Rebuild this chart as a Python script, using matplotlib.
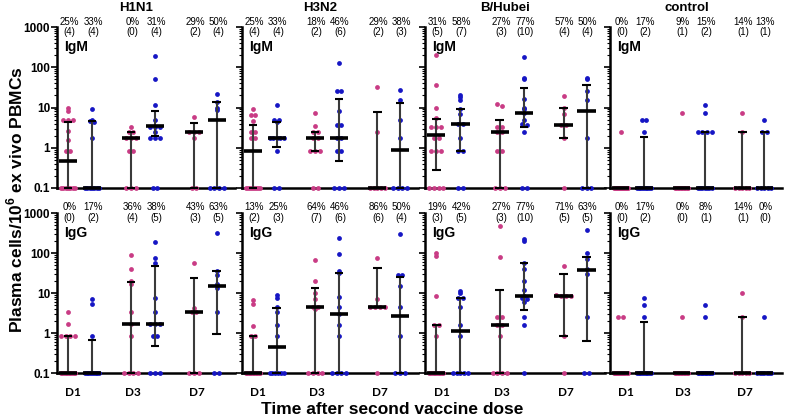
import numpy as np
import matplotlib
matplotlib.use("Agg")
import matplotlib.pyplot as plt
from matplotlib.ticker import LogLocator, NullFormatter, FixedLocator

plt.rcParams['font.family'] = ['Liberation Sans', 'DejaVu Sans']
plt.rcParams['mathtext.fontset'] = 'custom'
plt.rcParams['mathtext.rm'] = 'Liberation Sans'
plt.rcParams['mathtext.bf'] = 'Liberation Sans:bold'

# ---------------- data ----------------
strains = ["H1N1", "H3N2", "B/Hubei", "control"]
isotypes = ["IgM", "IgG"]
days = ["D1", "D3", "D7"]
ytick_vals = [0.1, 1, 10, 100, 1000]
ytick_labels = ["0.1", "1", "10", "100", "1000"]

# group order in every panel: D1 pink, D1 blue, D3 pink, D3 blue, D7 pink, D7 blue
h1n1_igm_vals = [
    [9.5, 8.3, 4.9, 4.9, 4.9, 2.6, 1.6, 0.85, 0.85] + [0.1] * 7,
    [9, 5, 4.5, 4.3, 1.7] + [0.1] * 7,
    [3.3, 2.5, 2.5, 1.7, 1.7, 1.7, 0.85, 0.85, 0.1, 0.1, 0.1],
    [190, 51, 11.5, 5, 3.3, 3.3, 3.3, 2.5, 1.7, 1.7, 1.7, 0.1, 0.1],
    [5.8, 2.5, 2.5, 2.5, 1.7, 0.1, 0.1],
    [22, 14, 10, 8.5, 0.1, 0.1, 0.1, 0.1],
]
h1n1_igm_med = [0.47, 0.1, 1.7, 3.4, 2.5, 5.0]
h1n1_igm_lo = [0.1, 0.1, 0.1, 2.0, 0.1, 0.1]
h1n1_igm_hi = [4.3, 4.5, 2.5, 8.3, 4.2, 14]
h1n1_igm_pct = [25, 33, 0, 31, 29, 50]
h1n1_igm_cnt = [4, 4, 0, 4, 2, 4]

h3n2_igm_vals = [
    [9, 6.5, 6.5, 4.5, 2.5, 2.5, 1.7, 1.7] + [0.1] * 8,
    [11.3, 5, 5, 4.3, 1.7, 1.7, 1.7, 1.7, 1.7, 0.85, 0.1, 0.1],
    [7.2, 3.5, 2.5, 2.5, 1.7, 1.7, 0.85, 0.85, 0.85, 0.1, 0.1],
    [129, 26, 26, 8.3, 3.7, 3.7, 1.7, 1.7, 0.85, 0.85, 0.1, 0.1, 0.1],
    [33, 2.5, 0.1, 0.1, 0.1, 0.1, 0.1],
    [28, 15, 5, 1.7, 0.1, 0.1, 0.1, 0.1],
]
h3n2_igm_med = [0.83, 1.7, 1.7, 1.7, 0.1, 0.88]
h3n2_igm_lo = [0.1, 1.07, 0.85, 0.46, 0.1, 0.1]
h3n2_igm_hi = [3.7, 4.3, 2.5, 16, 7.9, 12.7]
h3n2_igm_pct = [25, 33, 18, 46, 29, 38]
h3n2_igm_cnt = [4, 4, 2, 6, 2, 3]

bhub_igm_vals = [
    [200, 36, 9.5, 5.4, 3.3, 3.3, 3.3, 1.7, 1.7, 0.85, 0.85, 0.85] + [0.1] * 4,
    [20, 18, 15, 9, 7, 4, 4, 1.7, 0.85, 0.85, 0.1, 0.1],
    [12, 11, 3.3, 3.3, 2.5, 2.5, 0.85, 0.85, 0.1, 0.1, 0.1],
    [178, 55, 50, 16, 10, 9, 7.2, 5, 4, 3.7, 2.4, 0.1, 0.1],
    [19.5, 10, 7, 3.7, 3.7, 1.7, 0.1],
    [55, 50, 25, 15, 1.7, 0.1, 0.1, 0.1],
]
bhub_igm_med = [2.1, 4.0, 2.5, 7.2, 3.7, 8.2]
bhub_igm_lo = [0.28, 0.85, 0.1, 3.3, 1.7, 0.1]
bhub_igm_hi = [5.2, 9, 4.9, 31, 10, 36]
bhub_igm_pct = [31, 58, 27, 77, 57, 50]
bhub_igm_cnt = [5, 7, 3, 10, 4, 4]

ctrl_igm_vals = [
    [2.4] + [0.1] * 15,
    [5, 5, 2.5] + [0.1] * 9,
    [7.2] + [0.1] * 10,
    [11.5, 7.2, 2.5, 2.5, 2.5, 2.5] + [0.1] * 7,
    [7.2, 2.5] + [0.1] * 5,
    [5, 2.5, 2.5] + [0.1] * 5,
]
ctrl_igm_med = [0.1, 0.1, 0.1, 0.1, 0.1, 0.1]
ctrl_igm_lo = [0.1, 0.1, 0.1, 0.1, 0.1, 0.1]
ctrl_igm_hi = [0.1, 1.9, 0.1, 2.5, 2.5, 2.5]
ctrl_igm_pct = [0, 17, 9, 15, 14, 13]
ctrl_igm_cnt = [0, 2, 1, 2, 1, 1]

h1n1_igg_vals = [
    [3.4, 1.7, 0.85, 0.85, 0.85, 0.85] + [0.1] * 10,
    [6.9, 5.2, 0.85] + [0.1] * 9,
    [89, 40, 20, 16.5, 3.3, 1.7, 0.85, 0.1, 0.1, 0.1, 0.1],
    [185, 74, 55, 7.6, 3.3, 1.7, 1.7, 1.7, 0.85, 0.85, 0.1, 0.1, 0.1],
    [57, 4.3, 3.4, 3.3, 0.1, 0.1, 0.1],
    [320, 36, 28, 17, 13, 3.3, 0.1, 0.1],
]
h1n1_igg_med = [0.1, 0.1, 1.7, 1.7, 3.3, 15]
h1n1_igg_lo = [0.1, 0.1, 0.1, 0.48, 0.1, 0.93]
h1n1_igg_hi = [0.85, 0.67, 19, 46, 24, 35]
h1n1_igg_pct = [0, 17, 36, 38, 43, 63]
h1n1_igg_cnt = [0, 2, 4, 5, 3, 5]

h3n2_igg_vals = [
    [6.7, 5.2, 1.5, 0.85, 0.85] + [0.1] * 11,
    [8.9, 7.4, 4.5, 3.3, 1.6, 0.85] + [0.1] * 6,
    [67, 20, 10, 7, 4.5, 4.5, 4, 0.1, 0.1, 0.1, 0.1],
    [240, 93, 36, 31, 8.1, 4.5, 3, 1.6, 0.85, 0.1, 0.1, 0.1, 0.1],
    [76, 7, 4.5, 4.5, 4.5, 4.5, 0.1],
    [293, 28, 28, 15, 4.5, 0.85, 0.1, 0.1, 0.1],
]
h3n2_igg_med = [0.1, 0.45, 4.5, 3.0, 4.5, 2.7]
h3n2_igg_lo = [0.1, 0.1, 0.1, 0.1, 4.5, 0.1]
h3n2_igg_hi = [0.85, 4.2, 13, 31, 41, 25]
h3n2_igg_pct = [13, 25, 64, 46, 86, 50]
h3n2_igg_cnt = [2, 3, 7, 6, 6, 4]

bhub_igg_vals = [
    [100, 85, 8.6, 1.6, 1.6, 0.85] + [0.1] * 10,
    [11, 10, 7.5, 7.5, 4.5, 1.6, 0.85] + [0.1] * 5,
    [470, 78, 2.5, 2.5, 1.6, 1.6, 0.85, 0.1, 0.1, 0.1, 0.1],
    [220, 200, 55, 40, 20, 12, 8.4, 7.5, 7, 6, 2.5, 1.6, 0.1],
    [46, 8.9, 8.4, 8.4, 8.4, 0.85, 0.1],
    [376, 100, 70, 40, 30, 2.5, 0.1, 0.1],
]
bhub_igg_med = [0.1, 1.15, 1.6, 8.4, 8.4, 38]
bhub_igg_lo = [0.1, 0.1, 0.1, 3.8, 0.85, 0.64]
bhub_igg_hi = [1.6, 7.5, 12, 55, 30, 81]
bhub_igg_pct = [19, 42, 27, 77, 71, 63]
bhub_igg_cnt = [3, 5, 3, 10, 5, 5]

ctrl_igg_vals = [
    [2.5, 2.5] + [0.1] * 14,
    [7.4, 4.9, 2.5] + [0.1] * 9,
    [2.5] + [0.1] * 10,
    [4.9, 2.5] + [0.1] * 11,
    [10, 2.5] + [0.1] * 5,
    [2.5] + [0.1] * 7,
]
ctrl_igg_med = [0.1, 0.1, 0.1, 0.1, 0.1, 0.1]
ctrl_igg_lo = [0.1, 0.1, 0.1, 0.1, 0.1, 0.1]
ctrl_igg_hi = [0.1, 1.9, 0.1, 0.1, 2.5, 0.1]
ctrl_igg_pct = [0, 17, 0, 8, 14, 0]
ctrl_igg_cnt = [0, 2, 0, 1, 1, 0]

panels = {
    (0, 0): (h1n1_igm_vals, h1n1_igm_med, h1n1_igm_lo, h1n1_igm_hi, h1n1_igm_pct, h1n1_igm_cnt),
    (0, 1): (h3n2_igm_vals, h3n2_igm_med, h3n2_igm_lo, h3n2_igm_hi, h3n2_igm_pct, h3n2_igm_cnt),
    (0, 2): (bhub_igm_vals, bhub_igm_med, bhub_igm_lo, bhub_igm_hi, bhub_igm_pct, bhub_igm_cnt),
    (0, 3): (ctrl_igm_vals, ctrl_igm_med, ctrl_igm_lo, ctrl_igm_hi, ctrl_igm_pct, ctrl_igm_cnt),
    (1, 0): (h1n1_igg_vals, h1n1_igg_med, h1n1_igg_lo, h1n1_igg_hi, h1n1_igg_pct, h1n1_igg_cnt),
    (1, 1): (h3n2_igg_vals, h3n2_igg_med, h3n2_igg_lo, h3n2_igg_hi, h3n2_igg_pct, h3n2_igg_cnt),
    (1, 2): (bhub_igg_vals, bhub_igg_med, bhub_igg_lo, bhub_igg_hi, bhub_igg_pct, bhub_igg_cnt),
    (1, 3): (ctrl_igg_vals, ctrl_igg_med, ctrl_igg_lo, ctrl_igg_hi, ctrl_igg_pct, ctrl_igg_cnt),
}

# ---------------- layout / style ----------------
PINK = '#C93C85'
BLUE = '#1616C4'
group_x = [0.0, 1.0, 2.625, 3.625, 5.25, 6.2]
group_col = [PINK, BLUE, PINK, BLUE, PINK, BLUE]
day_x = [0.22, 2.7, 5.35]

W, H = 790, 420
col_l = [57, 242, 425, 610]
col_r = [235, 418, 605, 782]
row_tb = [(27, 188), (213, 373)]

fig = plt.figure(figsize=(W / 100, H / 100), dpi=100)


def spread(vals, center):
    vals = np.asarray(vals, float)
    lv = np.log10(vals)
    order = np.argsort(-lv)
    xs = np.zeros(len(vals))
    used = np.zeros(len(vals), bool)
    for i in order:
        if used[i]:
            continue
        grp = [j for j in order if not used[j] and abs(lv[j] - lv[i]) < 0.04]
        k = len(grp)
        for j in grp:
            used[j] = True
        if k == 1:
            offs = [0.0]
        else:
            step = min(0.2, 0.6 / (k - 1))
            offs = (np.arange(k) - (k - 1) / 2) * step
        for j, o in zip(grp, offs):
            xs[j] = center + o
    return xs


for (r, c), (vals, med, lo, hi, pct, cnt) in panels.items():
    top, bot = row_tb[r]
    ax = fig.add_axes([col_l[c] / W, 1 - bot / H, (col_r[c] - col_l[c]) / W, (bot - top) / H])
    ax.set_yscale('log')
    ax.set_ylim(0.1, 1000)
    ax.set_xlim(-0.46, 6.96)
    for s in ['top', 'right']:
        ax.spines[s].set_visible(False)
    for s in ['left', 'bottom']:
        ax.spines[s].set_linewidth(1.8)
        ax.spines[s].set_zorder(1)
    ax.yaxis.set_major_locator(FixedLocator(ytick_vals))
    ax.yaxis.set_minor_locator(LogLocator(base=10, subs=np.arange(2, 10)))
    ax.yaxis.set_minor_formatter(NullFormatter())
    if c == 0:
        ax.set_yticklabels(ytick_labels, fontsize=8.5, fontweight='bold')
    else:
        ax.set_yticklabels([])
    ax.tick_params(axis='y', which='major', length=4, width=1.2, pad=1)
    ax.tick_params(axis='y', which='minor', length=2, width=0.8)
    ax.set_xticks([])
    ax.patch.set_alpha(0)

    xf = ax.get_xaxis_transform()
    for g in range(6):
        gx = group_x[g]
        xs = spread(vals[g], gx)
        ax.scatter(xs, vals[g], s=12, color=group_col[g], linewidths=0, zorder=2, clip_on=False)
        ax.vlines(gx, lo[g], hi[g], color='#3a3a3a', lw=1.5, zorder=3, clip_on=False)
        ax.hlines([lo[g], hi[g]], gx - 0.18, gx + 0.18, color='black', lw=1.5, zorder=3, clip_on=False)
        ax.hlines(med[g], gx - 0.38, gx + 0.38, color='black', lw=2.6, zorder=4, clip_on=False)
        yp, yc = (1.031, 0.969) if r == 0 else (1.0375, 0.969)
        ax.text(gx + 0.05, yp, f"{pct[g]}%", transform=xf, ha='center', va='center', fontsize=7)
        ax.text(gx + 0.05, yc, f"({cnt[g]})", transform=xf, ha='center', va='center', fontsize=7)

    ax.text(0.04, 0.876, isotypes[r], transform=ax.transAxes, ha='left', va='center',
            fontsize=10, fontweight='bold')
    if r == 0:
        ax.text(2.85, 1.118, strains[c], transform=xf, ha='center', va='center',
                fontsize=9.5, fontweight='bold')
    else:
        for d, dx in zip(days, day_x):
            ax.text(dx, -0.125, d, transform=xf, ha='center', va='center',
                    fontsize=8.5, fontweight='bold', family=['Lato', 'DejaVu Sans'])

fig.text(15 / W, 1 - 200 / H, r'Plasma cells/10$^{\mathbf{6}}$ ex vivo PBMCs', rotation=90,
         ha='center', va='center', fontsize=12.5, fontweight='bold')
fig.text(392 / W, 1 - 410 / H, 'Time after second vaccine dose', ha='center', va='center',
         fontsize=12.5, fontweight='bold')

fig.savefig('out.png', dpi=100)
